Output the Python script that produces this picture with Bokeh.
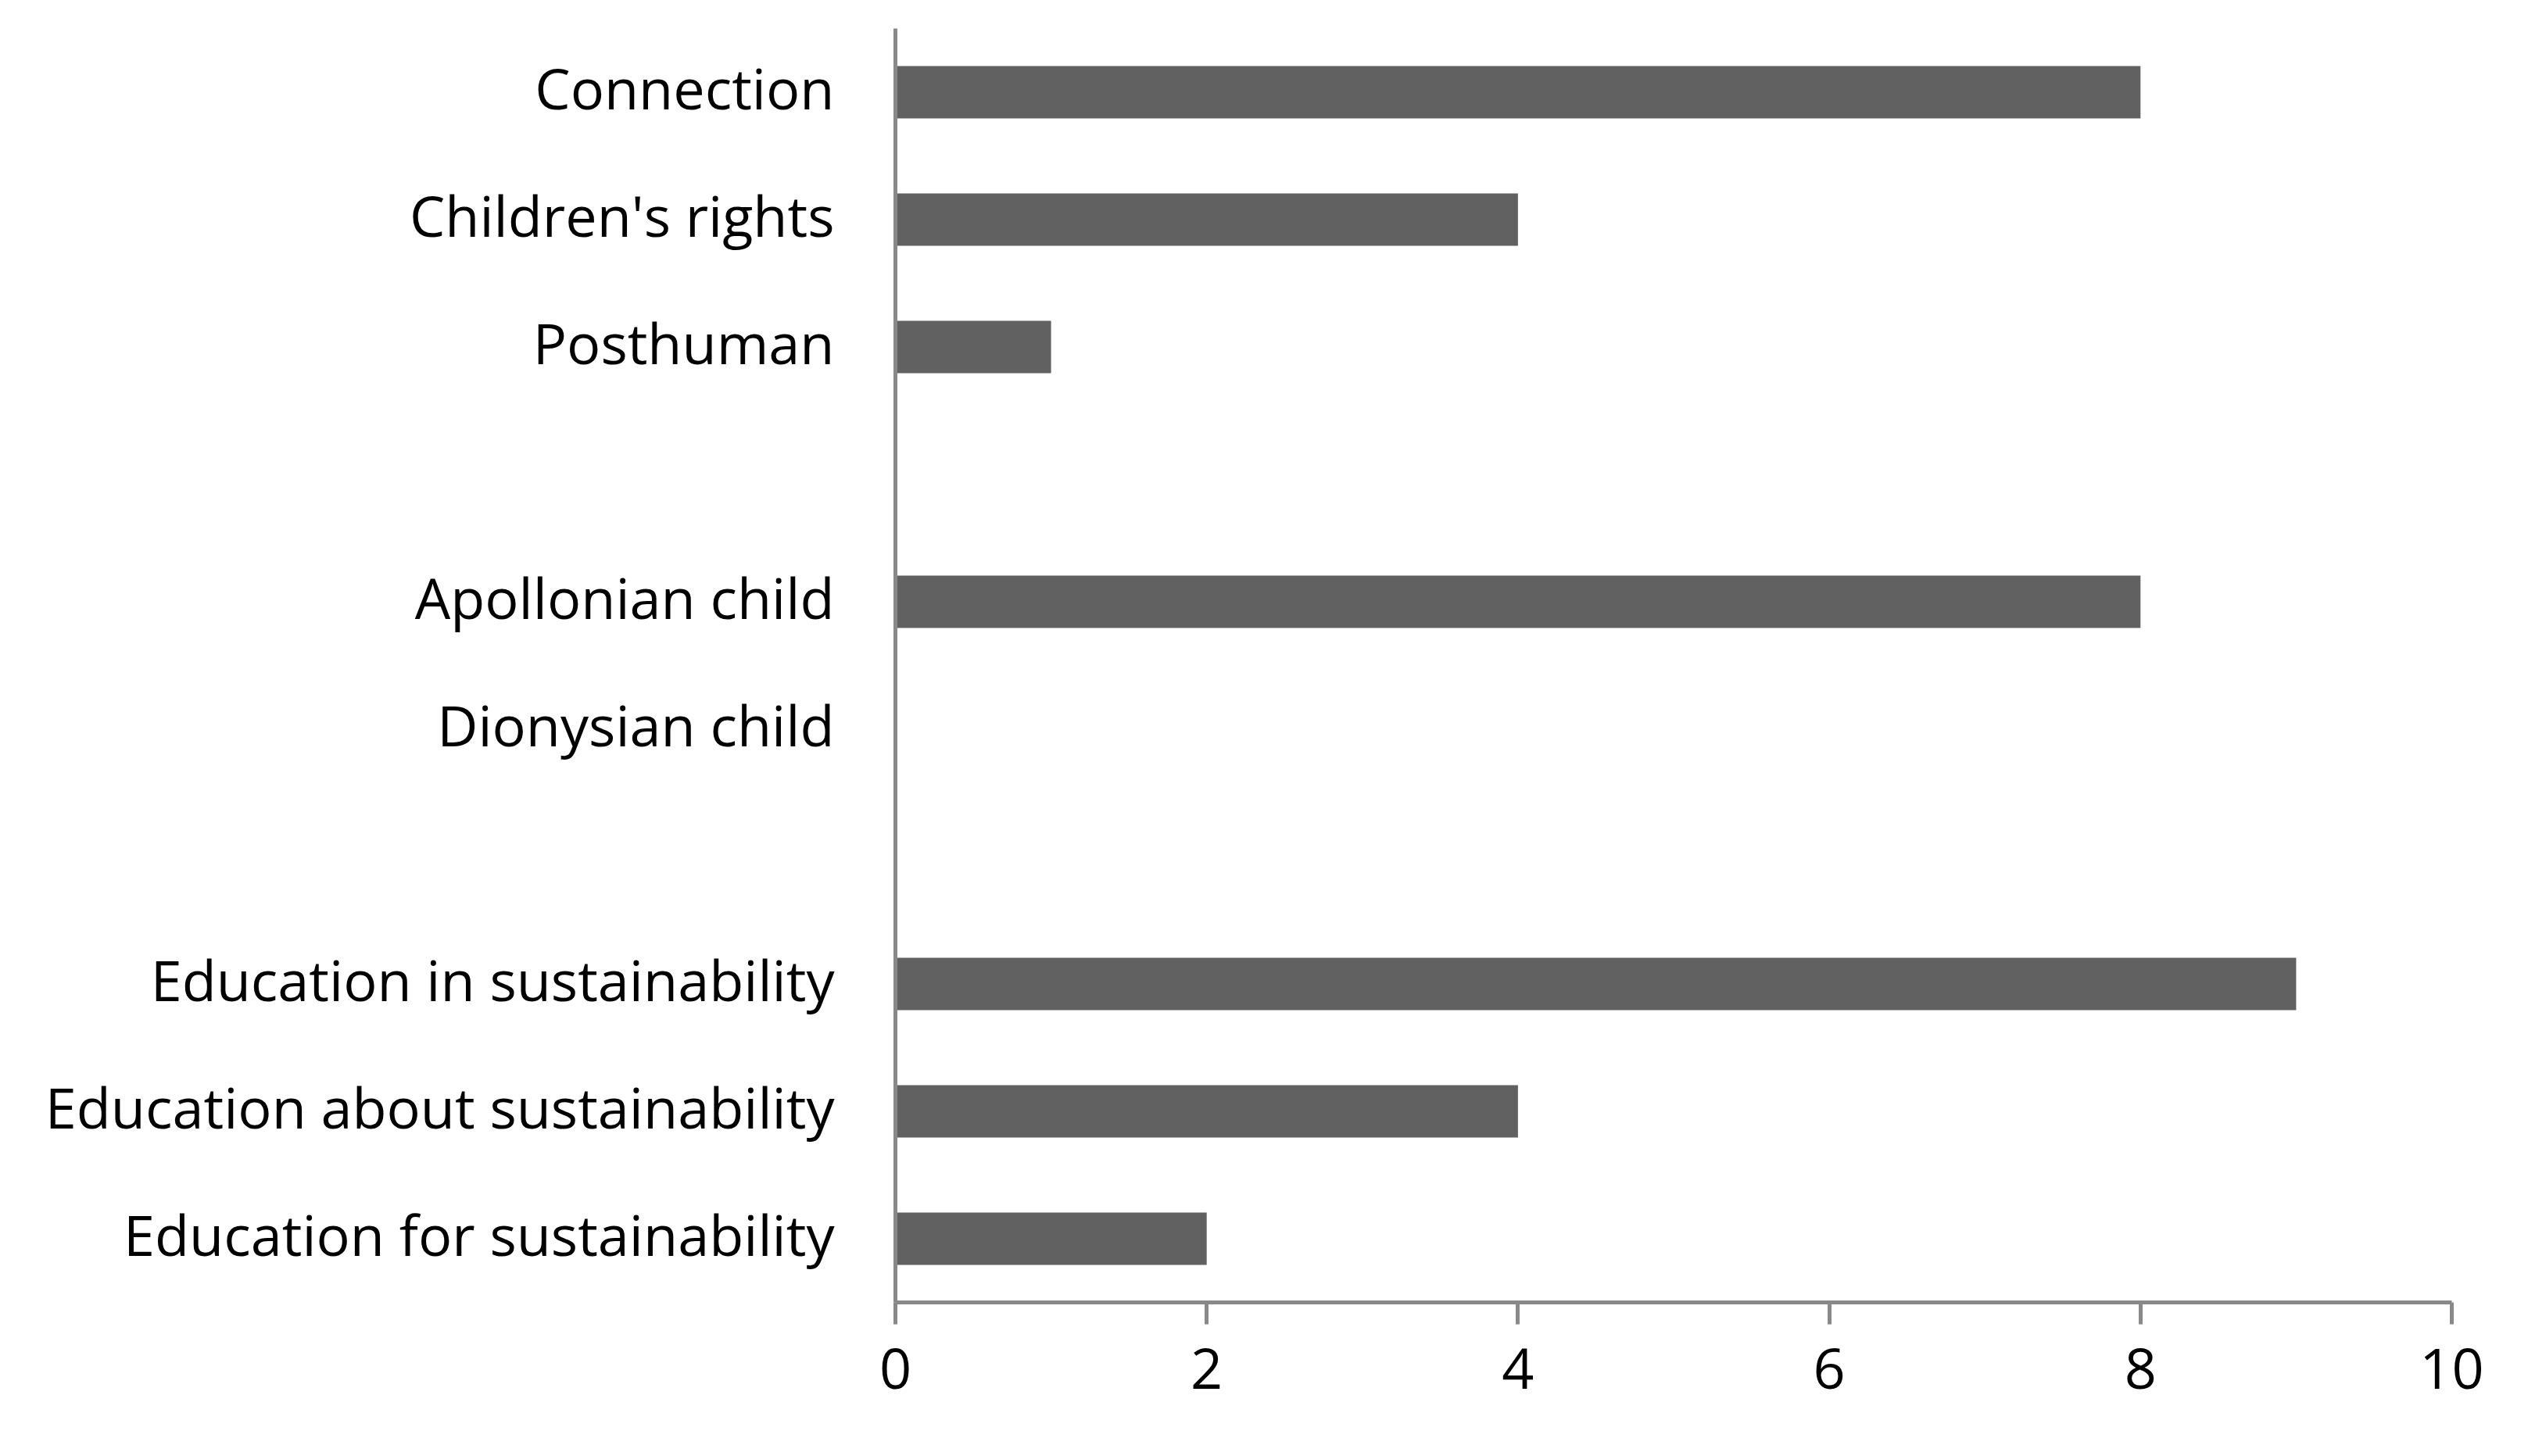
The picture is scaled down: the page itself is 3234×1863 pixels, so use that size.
from bokeh.plotting import figure
from bokeh.models import Range1d, FixedTicker, ColumnDataSource
from bokeh.embed import file_html
from bokeh.resources import INLINE

# Data (top-to-bottom order as in the chart)
categories = ["Connection", "Children's rights", "Posthuman", " ",
              "Apollonian child", "Dionysian child", "  ",
              "Education in sustainability", "Education about sustainability",
              "Education for sustainability"]
bar_categories = ["Connection", "Children's rights", "Posthuman",
                  "Apollonian child", "Dionysian child",
                  "Education in sustainability", "Education about sustainability",
                  "Education for sustainability"]
values = [8, 4, 1, 8, 0, 9, 4, 2]
x_ticks = [0, 2, 4, 6, 8, 10]

FONT = "Open Sans"
AXIS_COLOR = "#898989"
BAR_COLOR = "#616161"

n = len(categories)
# row position of each category (first category at the top)
row = {c: n - 1 - i + 0.5 for i, c in enumerate(categories)}

p = figure(width=3218, height=1847, output_backend="svg", toolbar_location=None,
           x_range=Range1d(0, 10), y_range=Range1d(0, n),
           min_border_left=1145, min_border_right=82, min_border_top=36, min_border_bottom=181)

src = ColumnDataSource(dict(y=[row[c] for c in bar_categories], right=values))
p.hbar(y="y", right="right", left=0, height=0.41, source=src,
       fill_color=BAR_COLOR, line_color=None)

p.outline_line_color = None
p.xgrid.grid_line_color = None
p.ygrid.grid_line_color = None
p.background_fill_color = "white"
p.border_fill_color = "white"

xa = p.xaxis[0]
xa.ticker = FixedTicker(ticks=x_ticks)
xa.axis_line_color = AXIS_COLOR
xa.axis_line_width = 5
xa.major_tick_line_color = AXIS_COLOR
xa.major_tick_line_width = 5
xa.major_tick_in = 0
xa.major_tick_out = 28
xa.minor_tick_line_color = None
xa.major_label_text_font = FONT
xa.major_label_text_font_size = "72px"
xa.major_label_text_color = "black"
xa.major_label_standoff = 30

# category labels: ticks nudged slightly upward to match the reference text placement
shift = 0.037
tick_pos = [row[c] + shift for c in categories]
ya = p.yaxis[0]
ya.ticker = FixedTicker(ticks=tick_pos)
ya.major_label_overrides = {t: c for t, c in zip(tick_pos, categories)}
ya.axis_line_color = AXIS_COLOR
ya.axis_line_width = 5
ya.major_tick_line_color = None
ya.minor_tick_line_color = None
ya.major_tick_in = 0
ya.major_tick_out = 0
ya.major_label_text_font = FONT
ya.major_label_text_font_size = "72px"
ya.major_label_text_color = "black"
ya.major_label_standoff = 78

open("out.html", "w").write(file_html(p, INLINE))
